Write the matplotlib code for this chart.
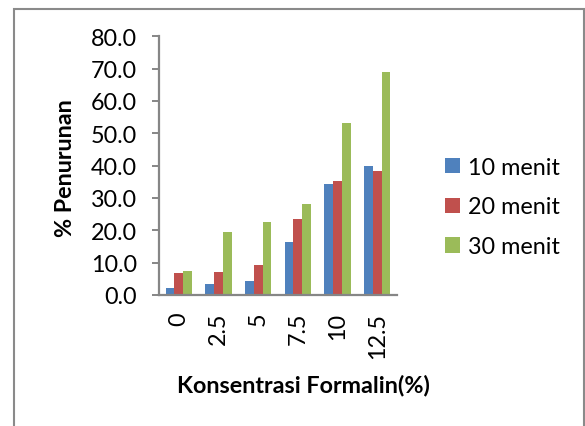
import matplotlib
matplotlib.use("Agg")
import matplotlib.pyplot as plt
import matplotlib.patches as mpatches
import numpy as np

categories = ["0", "2.5", "5", "7.5", "10", "12.5"]
series_names = ["10 menit", "20 menit", "30 menit"]
menit10 = [2.3, 3.4, 4.3, 16.3, 34.4, 40.0]
menit20 = [6.8, 7.1, 9.3, 23.4, 35.1, 38.2]
menit30 = [7.4, 19.4, 22.7, 28.0, 53.3, 69.1]
yticks = [0, 10, 20, 30, 40, 50, 60, 70, 80]

colors = ["#4F81BD", "#C0504D", "#9BBB59"]
axis_color = "#868686"
FONT = "Lato"
FS = 16.8

W, H = 585, 427
fig = plt.figure(figsize=(W / 100, H / 100), dpi=100)
fig.patch.set_facecolor("white")

ax = fig.add_axes([159 / W, 1 - 296 / H, 238 / W, (296 - 37.3) / H])

x = np.arange(len(categories))
bw = 0.22
for i, (vals, name, c) in enumerate(zip([menit10, menit20, menit30], series_names, colors)):
    ax.bar(x + (i - 1) * bw, vals, width=bw, color=c, label=name, zorder=2)

ax.set_xlim(-0.5, len(categories) - 0.5)
ax.set_ylim(0, 80)
ax.set_yticks(yticks)
ax.set_yticklabels([f"{v:.1f}" for v in yticks], fontfamily=FONT, fontsize=FS)
ax.set_xticks(x)
ax.set_xticklabels(categories, rotation=90, fontfamily=FONT, fontsize=FS, va="top")

for s in ["top", "right"]:
    ax.spines[s].set_visible(False)
for s in ["left", "bottom"]:
    ax.spines[s].set_color(axis_color)
    ax.spines[s].set_linewidth(1.6)
ax.tick_params(axis="y", length=5.2, width=1.4, color=axis_color, pad=10.5)
ax.tick_params(axis="x", length=0, pad=12)

fig.text(65 / W, 1 - 168 / H, "% Penurunan", rotation=90, ha="center", va="center",
         fontfamily=FONT, fontsize=FS, fontweight="bold")
fig.text(303 / W, 1 - 386 / H, "Konsentrasi Formalin(%)", ha="center", va="center",
         fontfamily=FONT, fontsize=FS, fontweight="bold")

leg = ax.legend(loc="center left", bbox_to_anchor=(445 / W, 1 - 208 / H),
                bbox_transform=fig.transFigure, frameon=False,
                prop={"family": FONT, "size": FS},
                handlelength=0.64, handleheight=0.64, handletextpad=0.35,
                labelspacing=0.8, borderaxespad=0, borderpad=0)

border = mpatches.Rectangle((14 / W, -0.05), (584 - 14) / W, (1 - 10 / H) + 0.05,
                            transform=fig.transFigure, fill=False,
                            edgecolor="#8a8a8a", linewidth=1.5, clip_on=False)
fig.patches.append(border)

fig.savefig("out.png", dpi=100, facecolor="white")
